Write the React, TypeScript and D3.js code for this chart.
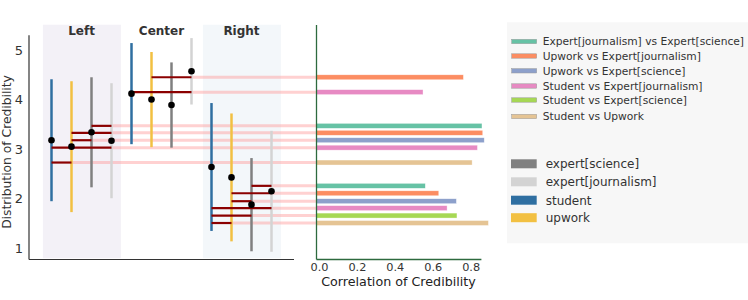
import { useEffect, useRef } from 'react';
import * as d3 from 'd3';

// groups and raters
const groups = ['Left', 'Center', 'Right'];
const raters = ['student', 'upwork', 'expert[science]', 'expert[journalism]'];
const raterColors = ['#2f6fa1', '#f2c042', '#808080', '#d3d3d3'];
const legendRaterOrder = [2, 3, 0, 1];

// mean +- sd of credibility, one value per group (Left, Center, Right)
const studentMean = [3.18, 4.12, 2.64];
const studentSd = [1.23, 1.02, 1.29];
const upworkMean = [3.05, 4.0, 2.43];
const upworkSd = [1.32, 0.96, 1.29];
const scienceMean = [3.34, 3.89, 1.88];
const scienceSd = [1.11, 0.86, 0.94];
const journalismMean = [3.17, 4.57, 2.15];
const journalismSd = [1.16, 0.67, 1.22];

// rater pairs
const pairNames = [
  'Expert[journalism] vs Expert[science]',
  'Upwork vs Expert[journalism]',
  'Upwork vs Expert[science]',
  'Student vs Expert[journalism]',
  'Student vs Expert[science]',
  'Student vs Upwork',
];
const pairRaters = [[2, 3], [1, 3], [1, 2], [0, 3], [0, 2], [0, 1]];
const pairColors = ['#66c2a5', '#fc8d62', '#8da0cb', '#e78ac3', '#a6d854', '#e5c494'];

// correlation per pair (null = not shown)
const leftCorr = [0.873, 0.877, 0.885, 0.849, null, 0.821];
const centerCorr = [null, 0.775, null, 0.562, null, null];
const rightCorr = [0.574, 0.645, 0.738, 0.689, 0.741, 0.907];

// height on the credibility axis where each pair is drawn
const leftLevel = [3.47, 3.33, 3.18, 3.03, null, 2.73];
const centerLevel = [null, 4.45, null, 4.15, null, null];
const rightLevel = [2.26, 2.11, 1.95, 1.81, 1.66, 1.51];

const yTicks = [1, 2, 3, 4, 5];
const xTicks = [0, 0.2, 0.4, 0.6, 0.8];

const FONT = 'DejaVu Sans, sans-serif';

const App = () => {
  const svgRef = useRef<SVGSVGElement>(null);

  useEffect(() => {
    if (!svgRef.current) return;
    const svg = d3.select(svgRef.current);
    svg.selectAll('*').remove();

    const means = [studentMean, upworkMean, scienceMean, journalismMean];
    const sds = [studentSd, upworkSd, scienceSd, journalismSd];
    const corrs = [leftCorr, centerCorr, rightCorr];
    const levels = [leftLevel, centerLevel, rightLevel];

    const y = d3.scaleLinear().domain([1, 5]).range([248.3, 50]);
    const x = d3.scaleLinear().domain([0, 11]).range([51.5, 271.5]);
    const xc = d3.scaleLinear().domain([0, 0.87]).range([316.5, 481.4]);

    // shaded group spans
    const shadeColors = ['#f3f1f7', null, '#f3f7fa'];
    groups.forEach((g, gi) => {
      if (shadeColors[gi]) {
        svg.append('rect')
          .attr('x', x(gi * 4 - 0.43))
          .attr('width', x(gi * 4 + 3.47) - x(gi * 4 - 0.43))
          .attr('y', y(5.51))
          .attr('height', y(0.8) - y(5.51))
          .attr('fill', shadeColors[gi] as string);
      }
      svg.append('text')
        .attr('x', x(gi * 4 + 1.5))
        .attr('y', 35)
        .attr('text-anchor', 'middle')
        .attr('font-family', FONT)
        .attr('font-size', 12)
        .attr('font-weight', 'bold')
        .attr('fill', '#333')
        .text(g);
    });

    // pink guide lines from pair segment to bar panel
    groups.forEach((_, gi) => {
      pairRaters.forEach((pr, pi) => {
        const lv = levels[gi][pi];
        if (lv == null) return;
        svg.append('line')
          .attr('x1', x(gi * 4 + pr[1]))
          .attr('x2', xc(0))
          .attr('y1', y(lv))
          .attr('y2', y(lv))
          .attr('stroke', '#ff9a9a')
          .attr('stroke-opacity', 0.45)
          .attr('stroke-width', 3);
      });
    });

    // vertical mean +- sd lines
    groups.forEach((_, gi) => {
      raters.forEach((_, ri) => {
        const m = means[ri][gi];
        const s = sds[ri][gi];
        svg.append('line')
          .attr('x1', x(gi * 4 + ri))
          .attr('x2', x(gi * 4 + ri))
          .attr('y1', y(m + s))
          .attr('y2', y(m - s))
          .attr('stroke', raterColors[ri])
          .attr('stroke-width', 2.5);
      });
    });

    // dark red pair segments
    groups.forEach((_, gi) => {
      pairRaters.forEach((pr, pi) => {
        const lv = levels[gi][pi];
        if (lv == null) return;
        svg.append('line')
          .attr('x1', x(gi * 4 + pr[0]))
          .attr('x2', x(gi * 4 + pr[1]))
          .attr('y1', y(lv))
          .attr('y2', y(lv))
          .attr('stroke', '#8b0000')
          .attr('stroke-width', 2.2);
      });
    });

    // mean dots
    groups.forEach((_, gi) => {
      raters.forEach((_, ri) => {
        svg.append('circle')
          .attr('cx', x(gi * 4 + ri))
          .attr('cy', y(means[ri][gi]))
          .attr('r', 3.3)
          .attr('fill', '#000');
      });
    });

    // left axes
    svg.append('line')
      .attr('x1', 29).attr('x2', 29)
      .attr('y1', y(5.3)).attr('y2', 259.5)
      .attr('stroke', '#333').attr('stroke-width', 1.2);
    svg.append('line')
      .attr('x1', 29).attr('x2', 294)
      .attr('y1', 259.5).attr('y2', 259.5)
      .attr('stroke', '#333').attr('stroke-width', 1.2);
    svg.selectAll('text.ytick')
      .data(yTicks)
      .enter()
      .append('text')
      .attr('class', 'ytick')
      .attr('x', 23)
      .attr('y', d => y(d))
      .attr('dy', '0.36em')
      .attr('text-anchor', 'end')
      .attr('font-family', FONT)
      .attr('font-size', 13)
      .attr('fill', '#333')
      .text(d => d);
    svg.append('text')
      .attr('transform', 'translate(11,152) rotate(-90)')
      .attr('text-anchor', 'middle')
      .attr('font-family', FONT)
      .attr('font-size', 12.3)
      .attr('fill', '#333')
      .text('Distribution of Credibility');

    // correlation bars
    groups.forEach((_, gi) => {
      pairRaters.forEach((_, pi) => {
        const c = corrs[gi][pi];
        const lv = levels[gi][pi];
        if (c == null || lv == null) return;
        svg.append('rect')
          .attr('x', xc(0))
          .attr('width', xc(c) - xc(0))
          .attr('y', y(lv + 0.05))
          .attr('height', y(lv - 0.05) - y(lv + 0.05))
          .attr('fill', pairColors[pi])
          .attr('stroke', '#ffffff')
          .attr('stroke-opacity', 0.6)
          .attr('stroke-width', 0.6);
      });
    });

    // bar panel axes
    svg.append('line')
      .attr('x1', xc(0)).attr('x2', xc(0))
      .attr('y1', 25).attr('y2', 259.5)
      .attr('stroke', '#2d6a3e').attr('stroke-width', 1.3);
    svg.append('line')
      .attr('x1', xc(0)).attr('x2', xc(0.87))
      .attr('y1', 259.5).attr('y2', 259.5)
      .attr('stroke', '#2d6a3e').attr('stroke-width', 1.3);
    svg.selectAll('text.xtick')
      .data(xTicks)
      .enter()
      .append('text')
      .attr('class', 'xtick')
      .attr('x', d => xc(d) + 3)
      .attr('y', 271)
      .attr('text-anchor', 'middle')
      .attr('font-family', FONT)
      .attr('font-size', 11.3)
      .attr('fill', '#333')
      .text(d => d3.format('.1f')(d));
    svg.append('text')
      .attr('x', 398.5)
      .attr('y', 286)
      .attr('text-anchor', 'middle')
      .attr('font-family', FONT)
      .attr('font-size', 12.7)
      .attr('fill', '#222')
      .text('Correlation of Credibility');

    // legend box
    svg.append('rect')
      .attr('x', 507).attr('y', 22.3)
      .attr('width', 241).attr('height', 221)
      .attr('fill', '#f7f7f7');

    const pairRows = [41.5, 56, 70.8, 86, 100, 116.5];
    pairNames.forEach((name, pi) => {
      svg.append('rect')
        .attr('x', 511.7).attr('y', pairRows[pi] - 2.2)
        .attr('width', 25).attr('height', 4.4)
        .attr('fill', pairColors[pi])
        .attr('stroke', '#999').attr('stroke-width', 0.5);
      svg.append('text')
        .attr('x', 542.7).attr('y', pairRows[pi])
        .attr('dy', '0.36em')
        .attr('font-family', FONT)
        .attr('font-size', 10.7)
        .attr('fill', '#333')
        .text(name);
    });

    const raterRows = [163.8, 181.8, 200.2, 217.7];
    legendRaterOrder.forEach((ri, k) => {
      svg.append('rect')
        .attr('x', 511).attr('y', raterRows[k] - 4.5)
        .attr('width', 25.7).attr('height', 9)
        .attr('fill', raterColors[ri]);
      svg.append('text')
        .attr('x', 545.7).attr('y', raterRows[k])
        .attr('dy', '0.36em')
        .attr('font-family', FONT)
        .attr('font-size', 12)
        .attr('fill', '#333')
        .text(raters[ri]);
    });
  }, []);

  return (
    <svg
      ref={svgRef}
      width={748}
      height={300}
      style={{ position: 'absolute', left: 0, top: 0, background: '#fff' }}
    />
  );
};

export default App;
